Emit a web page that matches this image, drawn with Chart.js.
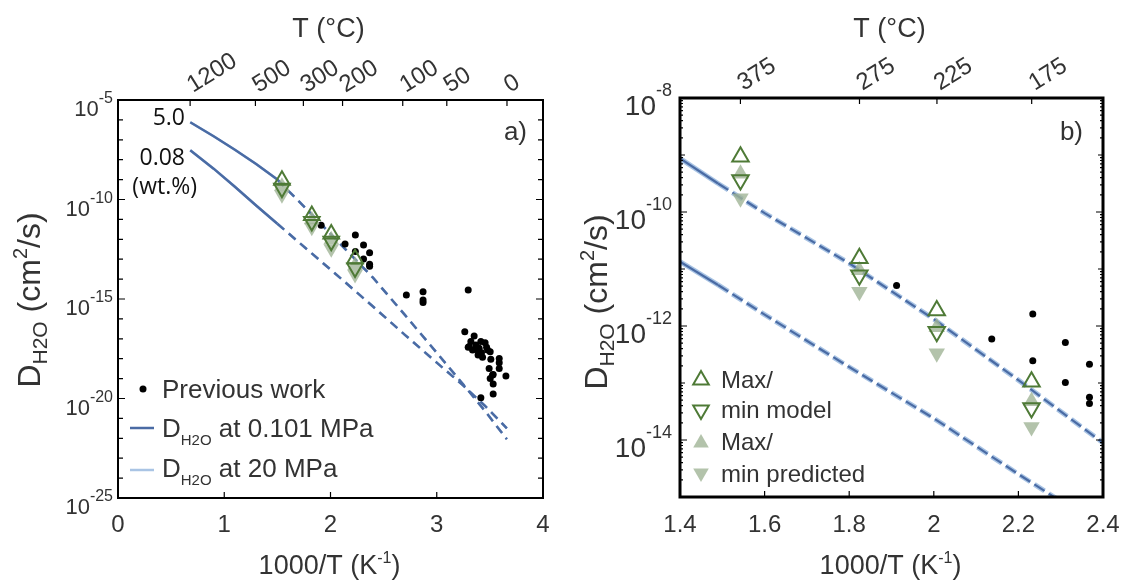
<!DOCTYPE html>
<html>
<head>
<meta charset="utf-8">
<script src="https://cdn.jsdelivr.net/npm/chart.js@4.4.0/dist/chart.umd.min.js"></script>
<style>
  html, body { margin: 0; padding: 0; background: #fff; }
  #wrap { position: relative; width: 1129px; height: 581px; overflow: hidden; }
  canvas { position: absolute; top: 0; }
  #chartA { left: 0; }
  #chartB { left: 565px; }
</style>
</head>
<body>
<div id="wrap">
  <canvas id="chartA" width="565" height="581"></canvas>
  <canvas id="chartB" width="564" height="581"></canvas>
</div>
<script>
// x = 1000/T (1/K), values are log10 of D_H2O (cm^2/s)

// the four run temperatures
const runX = [1.543, 1.824, 2.007, 2.231];
const maxModelLog = [-9.03, -10.81, -11.73, -12.98];
const minModelLog = [-9.44, -11.11, -12.10, -13.44];
const maxPredLog = [-9.33, -11.02, -12.02, -13.32];
const minPredLog = [-9.76, -11.40, -12.48, -13.77];

// previous work
const prevX = [
  1.912, 2.137, 2.234, 2.234, 2.311, 2.311, 2.368, 2.368, 2.368,
  2.714, 2.871, 2.871, 2.871, 3.296,
  3.264, 3.352, 3.296, 3.337, 3.368, 3.399, 3.421, 3.455, 3.469, 3.503, 3.389, 3.431, 3.509, 3.321, 3.415,
  3.588, 3.588, 3.588, 3.493, 3.531, 3.503, 3.651, 3.531, 3.531, 3.415, 3.305, 3.384, 3.478, 3.525
];
const prevLog = [
  -11.29, -12.23, -11.79, -12.61, -12.29, -12.99, -12.67, -13.25, -13.36,
  -14.80, -14.63, -15.05, -15.18, -14.55,
  -16.64, -16.86, -17.43, -17.56, -17.31, -17.48, -17.70, -17.20, -17.43, -17.65, -17.81, -17.93, -18.03, -17.14, -17.14,
  -17.99, -18.20, -18.49, -18.49, -18.79, -18.99, -18.87, -19.27, -19.77, -19.96, -17.39, -17.56, -17.56, -18.82
];

// model curves, panel a (5.0 and 0.08 wt.%)
const curveAX = [0.68, 0.9, 1.1, 1.3, 1.5, 1.8, 2.1, 2.4, 2.7, 3.0, 3.25, 3.45, 3.66];
const hiWaterA = [-6.12, -6.82, -7.5, -8.22, -9.0, -10.62, -12.28, -13.93, -15.8, -17.7, -19.3, -20.6, -22.05];
const loWaterA = [-7.53, -8.45, -9.36, -10.3, -11.22, -12.6, -13.98, -15.38, -16.8, -18.2, -19.35, -20.35, -21.5];

// model curves, panel b
const curveBX = [1.4, 1.49, 1.6, 1.8, 2.0, 2.2, 2.4];
const hiWaterB = [-9.06, -9.5, -10.02, -10.9, -11.88, -12.95, -14.05];
const loWaterB = [-10.87, -11.28, -11.8, -12.72, -13.62, -14.6, -15.55];

// axis ticks
const bottomTicksA = [0, 1, 2, 3, 4];
const bottomTicksB = [1.4, 1.6, 1.8, 2.0, 2.2, 2.4];
const topTempA = [1200, 500, 300, 200, 100, 50, 0];
const topTempB = [375, 275, 225, 175];
const yLabelExpA = [-5, -10, -15, -20, -25];
const yLabelExpB = [-8, -10, -12, -14];

const FONT = "'Liberation Sans', Arial, sans-serif";
const NOTE_FONT = "'Open Sans', 'Liberation Sans', sans-serif";
const TEXT = '#333';
const DARK_BLUE = '#4a6ba4';
const LIGHT_BLUE = '#a9c4e4';
const GREEN = '#4e7a36';
const SAGE = 'rgba(160,180,150,0.8)';

function pts(xs, logs) {
  return xs.map((x, i) => ({ x: x, y: Math.pow(10, logs[i]) }));
}

function curve(label, xs, logs, color, width, dash, breakX) {
  return {
    label: label,
    data: pts(xs, logs),
    showLine: true,
    pointRadius: 0,
    borderColor: color,
    backgroundColor: color,
    borderWidth: width,
    borderCapStyle: 'butt',
    segment: {
      borderDash: c => (c.p0.parsed.x >= breakX - 1e-6 ? dash : undefined)
    }
  };
}

function markers(label, logs, down, filled, r) {
  return {
    label: label,
    data: pts(runX, logs),
    pointStyle: 'triangle',
    rotation: down ? 180 : 0,
    pointRadius: r,
    borderWidth: filled ? 0 : 2,
    borderColor: filled ? SAGE : GREEN,
    backgroundColor: filled ? SAGE : 'rgba(0,0,0,0)'
  };
}

function tri(ctx, x, y, r, down, fill, stroke) {
  const s = down ? -1 : 1;
  ctx.beginPath();
  ctx.moveTo(x, y - s * r);
  ctx.lineTo(x + 0.866 * r, y + s * 0.5 * r);
  ctx.lineTo(x - 0.866 * r, y + s * 0.5 * r);
  ctx.closePath();
  if (fill) { ctx.fillStyle = fill; ctx.fill(); }
  if (stroke) { ctx.strokeStyle = stroke; ctx.lineWidth = 2; ctx.stroke(); }
}

// text made of runs with their own size and baseline shift
function drawRich(ctx, parts, x, y, align, family) {
  let w = 0;
  parts.forEach(p => {
    ctx.font = p.size + 'px ' + (family || FONT);
    w += ctx.measureText(p.t).width;
  });
  let cx = align === 'right' ? x - w : align === 'center' ? x - w / 2 : x;
  parts.forEach(p => {
    ctx.font = p.size + 'px ' + (family || FONT);
    ctx.fillText(p.t, cx, y + (p.dy || 0));
    cx += ctx.measureText(p.t).width;
  });
}

function dTitle(size, subSize, shift) {
  return [
    { t: 'D', size: size },
    { t: 'H2O', size: subSize, dy: shift }
  ];
}

const panelDecor = {
  id: 'panelDecor',
  afterDatasetsDraw(chart, args, o) {
    const ctx = chart.ctx;
    const a = chart.chartArea;
    const xs = chart.scales.x;
    const ys = chart.scales.y;
    ctx.save();
    ctx.textBaseline = 'alphabetic';
    ctx.strokeStyle = '#000';
    ctx.lineWidth = 1.2;

    const hTick = (py, len) => {
      ctx.beginPath();
      ctx.moveTo(a.left, py); ctx.lineTo(a.left + len, py);
      ctx.moveTo(a.right, py); ctx.lineTo(a.right - len, py);
      ctx.stroke();
    };

    // y ticks on both sides
    for (let e = o.yMinExp; e <= o.yMaxExp; e++) {
      const major = o.yLabels.includes(e);
      hTick(ys.getPixelForValue(Math.pow(10, e)), major ? 7 : 5);
      if (o.minorLog && e < o.yMaxExp) {
        for (let k = 2; k <= 9; k++) hTick(ys.getPixelForValue(k * Math.pow(10, e)), 3);
      }
    }

    // bottom ticks and labels
    ctx.fillStyle = TEXT;
    o.bottomTicks.forEach(v => {
      const px = xs.getPixelForValue(v);
      ctx.beginPath();
      ctx.moveTo(px, a.bottom); ctx.lineTo(px, a.bottom - 6);
      ctx.stroke();
      ctx.font = o.xLabelSize + 'px ' + FONT;
      ctx.textAlign = 'center';
      ctx.fillText(String(v), px, o.xLabelY);
    });
    ctx.textAlign = 'left';

    // top axis in degrees C
    o.topTemps.forEach(t => {
      const px = xs.getPixelForValue(1000 / (t + 273.15));
      ctx.beginPath();
      ctx.moveTo(px, a.top); ctx.lineTo(px, a.top + 6);
      ctx.stroke();
      ctx.save();
      ctx.translate(px + 3, a.top - 7);
      ctx.rotate(-32 * Math.PI / 180);
      ctx.font = o.topLabelSize + 'px ' + FONT;
      ctx.fillText(String(t), 0, 0);
      ctx.restore();
    });

    // y tick labels 10^n
    o.yLabels.forEach(e => {
      const py = ys.getPixelForValue(Math.pow(10, e));
      drawRich(ctx, [
        { t: '10', size: o.yLabelSize, dy: o.yMainDy },
        { t: String(e), size: o.ySupSize, dy: o.ySupDy }
      ], a.left - o.yLabelGap, py, 'right');
    });

    // frame
    ctx.lineWidth = o.frameWidth;
    ctx.strokeRect(a.left, a.top, a.right - a.left, a.bottom - a.top);

    // axis titles
    const cx = (a.left + a.right) / 2;
    drawRich(ctx, [{ t: 'T (°C)', size: 27 }], cx - 2, 37, 'center');
    drawRich(ctx, [
      { t: '1000/T (K', size: 27 },
      { t: '-1', size: 16, dy: -11 },
      { t: ')', size: 27 }
    ], cx - 1, 574, 'center');
    ctx.save();
    ctx.translate(o.yTitleX, o.yTitleY);
    ctx.rotate(-Math.PI / 2);
    drawRich(ctx, dTitle(32, 21, 7).concat([
      { t: ' (cm', size: 32 },
      { t: '2', size: 20, dy: -13 },
      { t: '/s)', size: 32 }
    ]), 0, 0, 'center');
    ctx.restore();

    // notes inside the plot
    o.notes.forEach(n => {
      ctx.fillStyle = n.color || TEXT;
      drawRich(ctx, [{ t: n.t, size: n.size }], n.x, n.y, n.align, n.family);
    });

    // legend
    ctx.fillStyle = TEXT;
    o.legend.forEach(it => {
      if (it.kind === 'dot') {
        ctx.fillStyle = '#000';
        ctx.beginPath(); ctx.arc(it.mx, it.my, 3.5, 0, Math.PI * 2); ctx.fill();
      } else if (it.kind === 'line') {
        ctx.strokeStyle = it.color; ctx.lineWidth = 2.5; ctx.setLineDash([]);
        ctx.beginPath(); ctx.moveTo(it.mx - 12, it.my); ctx.lineTo(it.mx + 12, it.my); ctx.stroke();
      } else if (it.kind === 'tri') {
        tri(ctx, it.mx, it.my, 9, it.down, it.filled ? SAGE : null, it.filled ? null : GREEN);
      }
      ctx.fillStyle = TEXT;
      const parts = it.d ? dTitle(it.size, 15, 8).concat([{ t: it.t, size: it.size }]) : [{ t: it.t, size: it.size }];
      drawRich(ctx, parts, it.tx, it.ty, 'left');
    });

    ctx.restore();
  }
};

function buildChart(id, spec) {
  return new Chart(document.getElementById(id), {
    type: 'scatter',
    data: { datasets: spec.datasets },
    options: {
      responsive: false,
      animation: false,
      events: [],
      layout: { padding: { top: spec.padTop, right: spec.padRight, left: 0, bottom: 0 } },
      scales: {
        x: {
          type: 'linear', position: 'bottom', min: spec.xMin, max: spec.xMax,
          ticks: { display: false }, grid: { display: false }, border: { display: false },
          afterFit: s => { s.height = spec.bottomH; }
        },
        y: {
          type: 'logarithmic', position: 'left', min: spec.yMin, max: spec.yMax,
          ticks: { display: false }, grid: { display: false }, border: { display: false },
          afterFit: s => { s.width = spec.leftW; }
        }
      },
      plugins: {
        legend: { display: false },
        tooltip: { enabled: false },
        panelDecor: spec.decor
      }
    },
    plugins: [panelDecor]
  });
}

// panel a
buildChart('chartA', {
  xMin: 0, xMax: 4, yMin: 1e-25, yMax: 1e-5,
  padTop: 100, padRight: 22, bottomH: 83, leftW: 118,
  datasets: [
    markers('Max model', maxModelLog, false, false, 9),
    markers('Min model', minModelLog, true, false, 9),
    markers('Max predicted', maxPredLog, false, true, 9),
    markers('Min predicted', minPredLog, true, true, 9),
    { label: 'Previous work', data: pts(prevX, prevLog), pointRadius: 3.5, borderWidth: 0,
      backgroundColor: '#000', borderColor: '#000' },
    curve('5.0 wt.% at 0.101 MPa', curveAX, hiWaterA, DARK_BLUE, 2.5, [9, 6], 1.5),
    curve('0.08 wt.% at 0.101 MPa', curveAX, loWaterA, DARK_BLUE, 2.5, [9, 6], 1.5),
    curve('5.0 wt.% at 20 MPa', curveAX, hiWaterA, LIGHT_BLUE, 2.5, [9, 6], 1.5),
    curve('0.08 wt.% at 20 MPa', curveAX, loWaterA, LIGHT_BLUE, 2.5, [9, 6], 1.5)
  ],
  decor: {
    frameWidth: 2,
    yMinExp: -25, yMaxExp: -5, yLabels: yLabelExpA, minorLog: false,
    yLabelSize: 22, ySupSize: 16, yMainDy: 16, ySupDy: 3, yLabelGap: 5,
    bottomTicks: bottomTicksA, xLabelSize: 24, xLabelY: 532,
    topTemps: topTempA, topLabelSize: 24,
    yTitleX: 40, yTitleY: 300,
    notes: [
      { t: '5.0', x: 185, y: 125, align: 'right', size: 23, family: NOTE_FONT, color: '#111' },
      { t: '0.08', x: 185, y: 165, align: 'right', size: 23, family: NOTE_FONT, color: '#111' },
      { t: '(wt.%)', x: 197, y: 194, align: 'right', size: 23, family: NOTE_FONT, color: '#111' },
      { t: 'a)', x: 527, y: 140, align: 'right', size: 26 }
    ],
    legend: [
      { kind: 'dot', mx: 143, my: 389, t: 'Previous work', tx: 162, ty: 398, size: 26 },
      { kind: 'line', color: DARK_BLUE, mx: 142, my: 428, d: true, t: ' at 0.101 MPa', tx: 162, ty: 437, size: 26 },
      { kind: 'line', color: LIGHT_BLUE, mx: 142, my: 470, d: true, t: ' at 20 MPa', tx: 162, ty: 477, size: 26 }
    ]
  }
});

// panel b
buildChart('chartB', {
  xMin: 1.4, xMax: 2.4, yMin: 1e-15, yMax: 1e-8,
  padTop: 98, padRight: 26, bottomH: 84, leftW: 115,
  datasets: [
    markers('Max model', maxModelLog, false, false, 9.5),
    markers('Min model', minModelLog, true, false, 9.5),
    markers('Max predicted', maxPredLog, false, true, 9.5),
    markers('Min predicted', minPredLog, true, true, 9.5),
    { label: 'Previous work', data: pts(prevX, prevLog), pointRadius: 3.5, borderWidth: 0,
      backgroundColor: '#000', borderColor: '#000' },
    curve('high water, 0.101 MPa', curveBX, hiWaterB, DARK_BLUE, 2.2, [12, 5], 1.49),
    curve('low water, 0.101 MPa', curveBX, loWaterB, DARK_BLUE, 2.2, [12, 5], 1.49),
    curve('high water, 20 MPa', curveBX, hiWaterB, LIGHT_BLUE, 5, [12, 5], 1.49),
    curve('low water, 20 MPa', curveBX, loWaterB, LIGHT_BLUE, 5, [12, 5], 1.49)
  ],
  decor: {
    frameWidth: 3,
    yMinExp: -15, yMaxExp: -8, yLabels: yLabelExpB, minorLog: true,
    yLabelSize: 28, ySupSize: 18, yMainDy: 17, ySupDy: -2, yLabelGap: 8,
    bottomTicks: bottomTicksB, xLabelSize: 24, xLabelY: 532,
    topTemps: topTempB, topLabelSize: 24,
    yTitleX: 42, yTitleY: 302,
    notes: [
      { t: 'b)', x: 518, y: 140, align: 'right', size: 26 }
    ],
    legend: [
      { kind: 'tri', down: false, filled: false, mx: 136, my: 380, t: 'Max/', tx: 156, ty: 388, size: 24 },
      { kind: 'tri', down: true, filled: false, mx: 136, my: 410, t: 'min model', tx: 156, ty: 418, size: 24 },
      { kind: 'tri', down: false, filled: true, mx: 136, my: 443, t: 'Max/', tx: 156, ty: 450, size: 24 },
      { kind: 'tri', down: true, filled: true, mx: 136, my: 473, t: 'min predicted', tx: 156, ty: 482, size: 24 }
    ]
  }
});
</script>
</body>
</html>
